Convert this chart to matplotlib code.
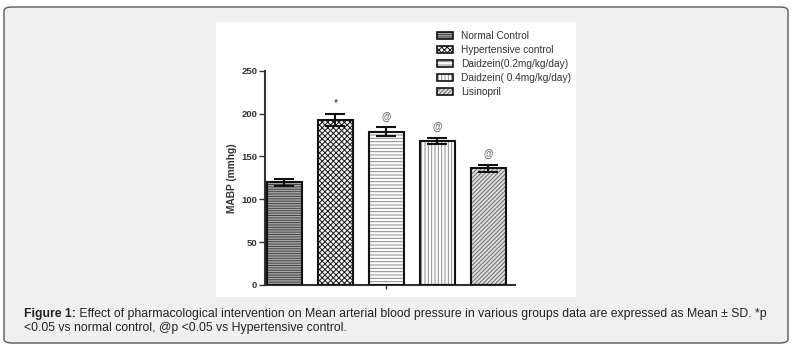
import matplotlib
matplotlib.use('Agg')
import matplotlib.pyplot as plt
from matplotlib.patches import Patch, FancyBboxPatch, Rectangle
from matplotlib.legend_handler import HandlerTuple

# --- data ---
GROUPS = ['Normal Control', 'Hypertensive control', 'Daidzein(0.2mg/kg/day)',
          'Daidzein( 0.4mg/kg/day)', 'Lisinopril']
MABP = [120, 193, 179, 168, 136]
SD = [4, 7, 5, 4, 4.5]
MARKS = ['', '*', '@', '@', '@']

# per-group fill styles (face, hatch, hatch colour)
FACES = ['#a8a8a8', '#f4f4f4', 'white', 'white', '#e0e0e0']
HATCHES = ['-------', 'xxxxxx', '-----', '|||||', '////////']
HATCH_COLORS = ['#404040', '#1a1a1a', '#8a8a8a', '#8a8a8a', '#6a6a6a']

CAPTION_HEAD = 'Figure 1:'
CAPTION_LINE1 = (' Effect of pharmacological intervention on Mean arterial blood pressure '
                 'in various groups data are expressed as Mean \u00b1 SD. *p')
CAPTION_LINE2 = '<0.05 vs normal control, @p <0.05 vs Hypertensive control.'

plt.rcParams['font.family'] = ['Liberation Sans', 'DejaVu Sans']
plt.rcParams['hatch.linewidth'] = 0.7

W, H = 796, 349
fig = plt.figure(figsize=(W / 100, H / 100), dpi=100)
fig.patch.set_facecolor('white')

# rounded caption box behind everything
box = FancyBboxPatch((4 / W, (H - 343) / H), 784 / W, 336 / H,
                     boxstyle='round,pad=0,rounding_size=0.0105',
                     transform=fig.transFigure, facecolor='#f0f0f0',
                     edgecolor='#5a5a5a', linewidth=1.0, zorder=0)
fig.patches.append(box)

# white panel that holds the chart
panel = Rectangle((216 / W, (H - 297) / H), 360 / W, 275 / H,
                  transform=fig.transFigure, facecolor='white',
                  edgecolor='none', zorder=0.5)
fig.patches.append(panel)

ax = fig.add_axes([265 / W, (H - 285) / H, 250 / W, 214.3 / H])
ax.set_zorder(2)
ax.set_facecolor('none')
x = list(range(len(GROUPS)))

# hatched fill first, then a black outline on top
for xi, v, fc, h, hc in zip(x, MABP, FACES, HATCHES, HATCH_COLORS):
    ax.bar(xi, v, width=0.69, color=fc, edgecolor=hc, hatch=h, linewidth=0, zorder=2)
ax.bar(x, MABP, width=0.69, fill=False, edgecolor='#111111', linewidth=1.5, zorder=3)
ax.errorbar(x, MABP, yerr=SD, fmt='none', ecolor='#111111', elinewidth=1.5,
            capsize=7, capthick=1.5, zorder=4)

for xi, v, s, m in zip(x, MABP, SD, MARKS):
    if m == '*':
        ax.annotate(m, (xi, v + s), xytext=(0, 4), textcoords='offset points',
                    ha='center', va='bottom', fontsize=7.5, color='#222222')
    elif m:
        ax.annotate(m, (xi, v + s), xytext=(0, 4), textcoords='offset points',
                    ha='center', va='bottom', fontsize=7, color='#707070',
                    fontweight='bold')

ax.set_xlim(-0.38, 4.52)
ax.set_ylim(0, 250)
ax.set_yticks([0, 50, 100, 150, 200, 250])
ax.set_xticks([2])
ax.set_xticklabels([''])
for side in ['top', 'right']:
    ax.spines[side].set_visible(False)
for side in ['left', 'bottom']:
    ax.spines[side].set_linewidth(1.5)
    ax.spines[side].set_color('#333333')
ax.tick_params(axis='y', length=4, width=1, color='#333333', labelsize=6.8,
               labelcolor='#333333', pad=1.5)
ax.tick_params(axis='x', length=3, width=1, color='#333333')
for lab in ax.get_yticklabels():
    lab.set_fontweight('bold')
ax.set_ylabel('MABP (mmhg)', fontsize=7.3, fontweight='bold', color='#333333', labelpad=3)

# legend with hatched swatches and black outlines
handles = []
for fc, h, hc in zip(FACES, HATCHES, HATCH_COLORS):
    fill = Patch(facecolor=fc, edgecolor=hc, hatch=h, linewidth=0)
    edge = Patch(facecolor='none', edgecolor='#111111', linewidth=1.2)
    handles.append((fill, edge))
leg = fig.legend(handles, GROUPS, handler_map={tuple: HandlerTuple(ndivide=1, pad=0)},
                 loc='upper left', bbox_to_anchor=(437 / W, 1 - 31 / H), frameon=False,
                 fontsize=7.3, handlelength=1.6, handleheight=0.7, handletextpad=0.75,
                 labelspacing=0.4, borderpad=0, borderaxespad=0, labelcolor='#333333')
leg.set_zorder(3)

# caption: bold lead-in followed by regular text
CAP_SIZE = 8.85
head = fig.text(24 / W, 1 - 314 / H, CAPTION_HEAD, fontsize=CAP_SIZE, fontweight='bold',
                color='#222222', va='center', ha='left')
fig.canvas.draw()
bb = head.get_window_extent(fig.canvas.get_renderer())
fig.text(bb.x1 / W, 1 - 314 / H, CAPTION_LINE1, fontsize=CAP_SIZE, color='#222222',
         va='center', ha='left')
fig.text(24 / W, 1 - 328 / H, CAPTION_LINE2, fontsize=CAP_SIZE, color='#222222',
         va='center', ha='left')

fig.savefig('out.png', dpi=100, facecolor=fig.get_facecolor())
